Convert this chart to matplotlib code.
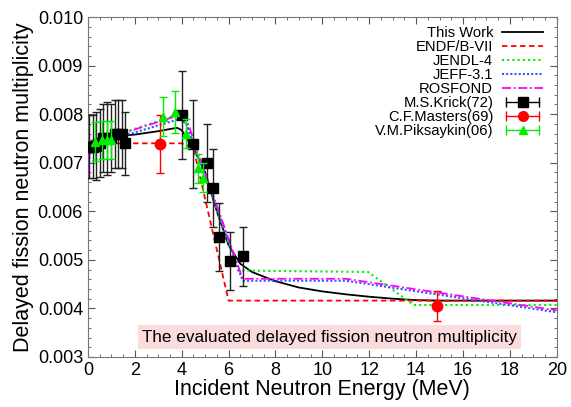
import matplotlib
matplotlib.use("Agg")
import matplotlib.pyplot as plt
from matplotlib.lines import Line2D
from matplotlib.legend_handler import HandlerLine2D
from matplotlib.ticker import MultipleLocator

plt.rcParams['font.family'] = ['Liberation Sans', 'DejaVu Sans']

# ---------------- data ----------------
this_work_E = [0, 0.5, 1.0, 1.5, 2.0, 3.0, 3.8, 4.0, 4.5, 5.0, 5.5, 6.0, 6.5, 7, 8, 9, 10, 11, 12, 13, 14, 15, 20]
this_work_v = [0.00733, 0.0074, 0.00748, 0.00756, 0.00758, 0.00765, 0.00772, 0.00767, 0.0073, 0.0068, 0.0060,
               0.0053, 0.00492, 0.00475, 0.00456, 0.00443, 0.00435, 0.00429, 0.00424, 0.0042, 0.00417, 0.00416, 0.00416]

endf_E = [0, 4.0, 4.5, 6.0, 20]
endf_v = [0.0074, 0.0074, 0.0073, 0.00416, 0.00416]

jendl_E = [0, 0.1, 3.9, 4.2, 6.4, 11.95, 13.9, 20]
jendl_v = [0.0073, 0.0074, 0.0080, 0.0078, 0.00478, 0.00475, 0.00407, 0.00407]

jeff_E = [0, 0.1, 1.9, 3.9, 4.2, 6.6, 11.0, 20]
jeff_v = [0.00665, 0.0074, 0.00761, 0.0079, 0.0078, 0.00457, 0.00457, 0.00392]

rosfond_E = [0, 0.1, 1.9, 3.9, 4.2, 6.6, 11.0, 20]
rosfond_v = [0.0067, 0.00745, 0.00767, 0.00798, 0.0079, 0.00461, 0.00461, 0.00396]

krick_E = [0.05, 0.2, 0.35, 0.5, 0.65, 0.8, 1.0, 1.15, 1.3, 1.45, 1.6, 4.0, 4.5, 5.06, 5.34, 5.6, 6.08, 6.6]
krick_v = [0.00733, 0.00733, 0.00735, 0.0074, 0.0075, 0.0075, 0.0075, 0.0076, 0.0076, 0.0076, 0.0074,
           0.00798, 0.00739, 0.0070, 0.00648, 0.00547, 0.00497, 0.00507]
krick_err = [0.00065, 0.00065, 0.0007, 0.0007, 0.0007, 0.00075, 0.0007, 0.0007, 0.0007, 0.0007, 0.00065,
             0.0009, 0.0009, 0.0008, 0.0008, 0.0007, 0.0006, 0.0006]

masters_E = [3.07, 14.9]
masters_v = [0.00739, 0.00405]
masters_err = [0.0006, 0.0003]

piks_E = [0.3, 0.58, 0.8, 1.0, 3.2, 3.7, 4.18, 4.7, 4.9]
piks_v = [0.00743, 0.00747, 0.00747, 0.00747, 0.00795, 0.00805, 0.0076, 0.00689, 0.00669]
piks_err = [0.0004, 0.0004, 0.0004, 0.0004, 0.0004, 0.00043, 0.0003, 0.0003, 0.0003]

# ---------------- plot ----------------
fig = plt.figure(figsize=(5.71, 4.07), dpi=100)
ax = fig.add_axes([0.154, 0.123, 0.821, 0.835])

ax.plot(this_work_E, this_work_v, color='black', lw=1.3, zorder=3)
ax.plot(endf_E, endf_v, color='#ff0000', lw=1.3, ls=(0, (3, 2)), zorder=3)
ax.plot(jendl_E, jendl_v, color='#00ee00', lw=1.5, ls=(0, (1, 1.5)), zorder=3)
ax.plot(jeff_E, jeff_v, color='#3355ff', lw=1.5, ls=(0, (1, 1)), zorder=3)
ax.plot(rosfond_E, rosfond_v, color='#ff00ff', lw=1.3, ls=(0, (5, 1.5, 1, 1.5)), zorder=3)

ax.errorbar(krick_E, krick_v, yerr=krick_err, fmt='s', color='black', ecolor='#222222',
            elinewidth=1.0, capsize=3, ms=7.5, zorder=4)
ax.errorbar(masters_E, masters_v, yerr=masters_err, fmt='o', color='#ff0000', ecolor='#ff0000',
            elinewidth=1.0, capsize=3, ms=7.5, zorder=4)
ax.errorbar(piks_E, piks_v, yerr=piks_err, fmt='^', color='#00ee00', ecolor='#00ee00',
            elinewidth=1.0, capsize=3, ms=6, zorder=5)

ax.set_xlim(0, 20)
ax.set_ylim(0.003, 0.010)
ax.xaxis.set_major_locator(MultipleLocator(2))
ax.xaxis.set_minor_locator(MultipleLocator(0.5))
ax.yaxis.set_major_locator(MultipleLocator(0.001))
ax.yaxis.set_minor_locator(MultipleLocator(0.0002))
ax.yaxis.set_major_formatter(matplotlib.ticker.FormatStrFormatter('%.3f'))
ax.tick_params(which='both', direction='in', top=True, right=True, labelsize=13, color='#555555')
ax.tick_params(which='major', length=5)
ax.tick_params(which='minor', length=2.5)
for s in ax.spines.values():
    s.set_color('#777777')

ax.set_xlabel('Incident Neutron Energy (MeV)', fontsize=15.5, labelpad=0)
ax.set_ylabel('Delayed fission neutron multiplicity', fontsize=15.5, labelpad=3)

ax.text(10.3, 0.00341, 'The evaluated delayed fission neutron multiplicity', ha='center', va='center',
        fontsize=12.3, bbox=dict(facecolor='#fbdcdc', edgecolor='none', pad=3))

# legend
h_tw = Line2D([], [], color='black', lw=1.3)
h_endf = Line2D([], [], color='#ff0000', lw=1.3, ls=(0, (3, 2)))
h_jendl = Line2D([], [], color='#00ee00', lw=1.5, ls=(0, (1, 1.5)))
h_jeff = Line2D([], [], color='#3355ff', lw=1.5, ls=(0, (1, 1)))
h_ros = Line2D([], [], color='#ff00ff', lw=1.3, ls=(0, (5, 1.5, 1, 1.5)))

caps = []
marks = []
for c, m, ms in [('black', 's', 7), ('#ff0000', 'o', 7), ('#00ee00', '^', 6)]:
    cap = Line2D([], [], color=c, lw=1.0, marker='|', ms=7)
    mk = Line2D([], [], color=c, ls='none', marker=m, ms=ms)
    caps.append(cap)
    marks.append(mk)

hmap = {cap: HandlerLine2D(numpoints=2) for cap in caps}
hmap.update({mk: HandlerLine2D(numpoints=1) for mk in marks})

handles = [h_tw, h_endf, h_jendl, h_jeff, h_ros] + [(caps[i], marks[i]) for i in range(3)]
labels = ['This Work', 'ENDF/B-VII', 'JENDL-4', 'JEFF-3.1', 'ROSFOND',
          'M.S.Krick(72)', 'C.F.Masters(69)', 'V.M.Piksaykin(06)']
ax.legend(handles, labels, loc='upper right', frameon=False, markerfirst=False, fontsize=10.6,
          handlelength=2.8, handletextpad=0.6, labelspacing=0.0, borderaxespad=0.2,
          handler_map=hmap, bbox_to_anchor=(0.99, 1.0))

fig.savefig('out.png', dpi=100)
